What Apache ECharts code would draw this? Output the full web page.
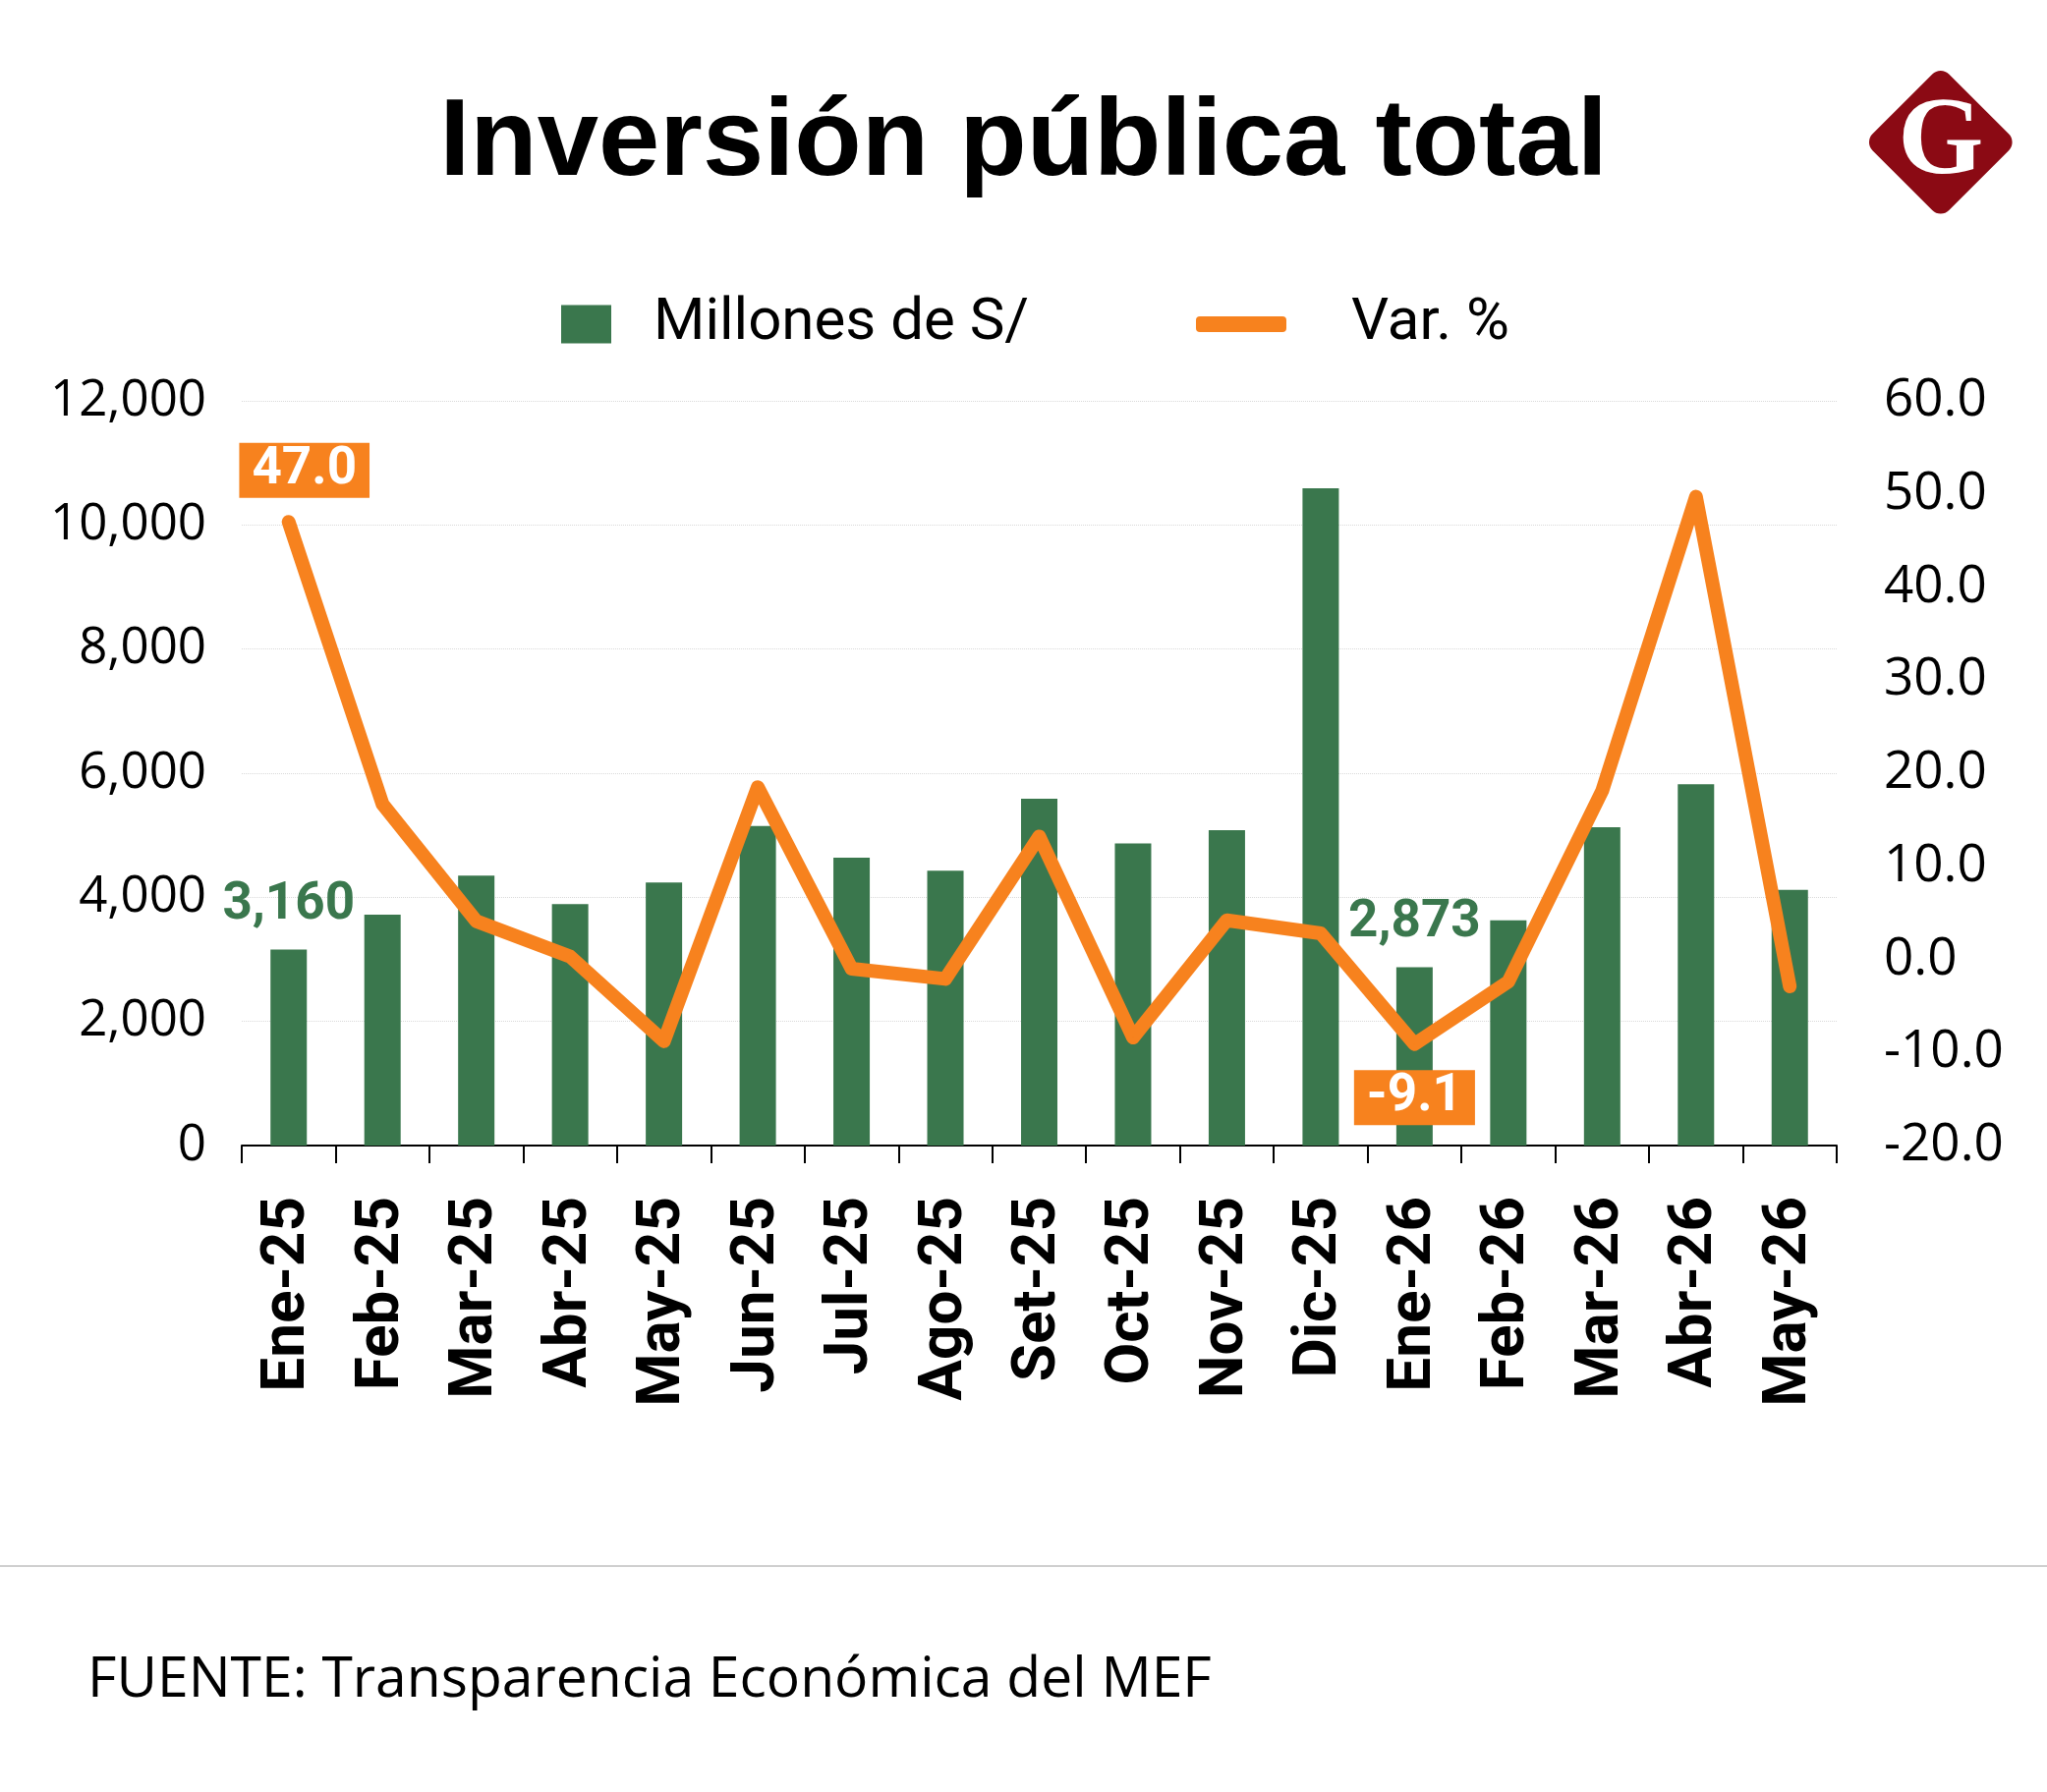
<!DOCTYPE html>
<html>
<head>
<meta charset="utf-8">
<script src="https://cdn.jsdelivr.net/npm/echarts@6/dist/echarts.min.js"></script>
<style>
  html, body { margin: 0; padding: 0; background: #ffffff; }
  #chart { width: 2083px; height: 1824px; }
</style>
</head>
<body>
<div id="chart"></div>
<script>
const months = ['Ene-25', 'Feb-25', 'Mar-25', 'Abr-25', 'May-25', 'Jun-25', 'Jul-25', 'Ago-25', 'Set-25',
  'Oct-25', 'Nov-25', 'Dic-25', 'Ene-26', 'Feb-26', 'Mar-26', 'Abr-26', 'May-26'];
const millones = [3160, 3720, 4350, 3890, 4240, 5150, 4640, 4430, 5590, 4870, 5080, 10590, 2873, 3630, 5130, 5820, 4120];
const variacion = [47.0, 16.7, 4.1, 0.3, -8.8, 18.5, -1.0, -2.1, 13.2, -8.4, 4.2, 2.8, -9.1, -2.4, 18.1, 49.7, -2.9];
const labelledIdx = [0, 12];

const GREEN = '#3a774d';
const ORANGE = '#f7821e';
const FONT = 'Roboto, "Open Sans", sans-serif';

const formatNumber = (value) => new Intl.NumberFormat('en-US').format(value);

function renderChart() {
  const chart = echarts.init(document.getElementById('chart'), null, { renderer: 'canvas' });

  const barData = millones.map((v, i) => labelledIdx.includes(i) ? {
    value: v,
    label: {
      show: true,
      position: 'top',
      distance: 18,
      color: GREEN,
      fontFamily: FONT,
      fontWeight: 'bold',
      fontSize: 53,
      formatter: p => formatNumber(p.value)
    }
  } : v);

  const boxLabel = {
    show: true,
    color: '#ffffff',
    backgroundColor: ORANGE,
    fontFamily: FONT,
    fontWeight: 'bold',
    fontSize: 53,
    lineHeight: 52,
    padding: [2, 13],
    formatter: p => Number(p.value).toFixed(1)
  };
  const lineData = variacion.map((v, i) => {
    if (i === 0) return { value: v, label: { ...boxLabel, position: 'top', distance: 24, offset: [16, 0] } };
    if (i === 12) return { value: v, label: { ...boxLabel, position: 'bottom', distance: 26 } };
    return v;
  });

  chart.setOption({
    backgroundColor: '#ffffff',
    animation: false,
    title: {
      text: 'Inversión pública total',
      left: 'center',
      top: 86,
      textStyle: { fontFamily: '"Liberation Sans", Arial, sans-serif', fontWeight: 'bold', fontSize: 112, color: '#000000', lineHeight: 112 }
    },
    legend: [
      {
        data: ['Millones de S/'],
        left: 566,
        top: 295,
        icon: 'rect',
        itemWidth: 51,
        itemHeight: 39,
        textStyle: { fontFamily: FONT, fontSize: 60, lineHeight: 60, color: '#000000', padding: [0, 0, 0, 38] }
      },
      {
        data: ['Var. %'],
        left: 1212,
        top: 295,
        icon: 'roundRect',
        itemWidth: 92,
        itemHeight: 16,
        textStyle: { fontFamily: FONT, fontSize: 60, lineHeight: 60, color: '#000000', padding: [0, 0, 0, 61] }
      }
    ],
    grid: { left: 246, right: 214, top: 408, bottom: 658, containLabel: false, outerBoundsMode: 'none' },
    xAxis: {
      type: 'category',
      data: months,
      boundaryGap: true,
      axisLine: { lineStyle: { color: '#000000', width: 2 } },
      axisTick: { show: true, length: 18, alignWithLabel: false, lineStyle: { color: '#000000', width: 2 } },
      axisLabel: {
        rotate: 90,
        margin: 52,
        interval: 0,
        color: '#000000',
        fontFamily: FONT,
        fontWeight: 'bold',
        fontSize: 62
      }
    },
    yAxis: [
      {
        type: 'value',
        min: 0,
        max: 12000,
        interval: 2000,
        axisLine: { show: false },
        axisTick: { show: false },
        axisLabel: { margin: 36, color: '#000000', fontFamily: '"Open Sans", sans-serif', fontSize: 51, formatter: v => formatNumber(v) },
        splitLine: { lineStyle: { color: '#d9d9d9', width: 1, type: 'dotted' } }
      },
      {
        type: 'value',
        min: -20,
        max: 60,
        interval: 10,
        axisLine: { show: false },
        axisTick: { show: false },
        axisLabel: { margin: 48, color: '#000000', fontFamily: '"Open Sans", sans-serif', fontSize: 53, formatter: v => v.toFixed(1) },
        splitLine: { show: false }
      }
    ],
    series: [
      {
        name: 'Millones de S/',
        type: 'bar',
        barWidth: 37,
        itemStyle: { color: GREEN },
        z: 2,
        data: barData
      },
      {
        name: 'Var. %',
        type: 'line',
        yAxisIndex: 1,
        symbol: 'circle',
        symbolSize: 1,
        showSymbol: true,
        itemStyle: { color: ORANGE },
        lineStyle: { color: ORANGE, width: 14, cap: 'round', join: 'round' },
        z: 3,
        data: lineData
      }
    ],
    graphic: [
      {
        type: 'group',
        left: 1897,
        top: 67,
        children: [
          {
            type: 'rect',
            x: 78,
            y: 78,
            originX: 0,
            originY: 0,
            rotation: Math.PI / 4,
            shape: { x: -55, y: -55, width: 110, height: 110, r: 12 },
            style: { fill: '#8b0a14' }
          },
          {
            type: 'text',
            x: 78,
            y: 80,
            style: {
              text: 'G',
              fill: '#ffffff',
              font: 'bold 112px "Liberation Serif", "DejaVu Serif", serif',
              align: 'center',
              verticalAlign: 'middle'
            }
          }
        ]
      },
      {
        type: 'rect',
        left: 0,
        top: 1593,
        shape: { width: 2083, height: 2 },
        style: { fill: '#cfcfcf' }
      },
      {
        type: 'text',
        left: 89,
        top: 1682,
        style: {
          text: 'FUENTE: Transparencia Económica del MEF',
          fill: '#000000',
          font: '57px "Open Sans", sans-serif'
        }
      }
    ]
  });
}

renderChart();
</script>
</body>
</html>
